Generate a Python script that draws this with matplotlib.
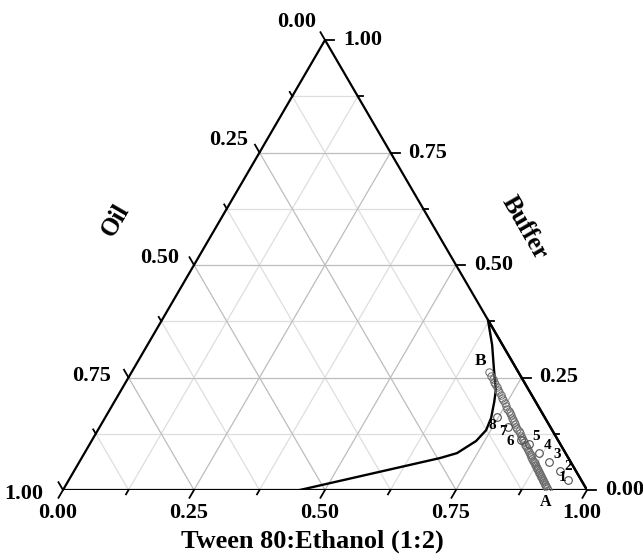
import matplotlib.pyplot as plt

plt.rcParams['font.family'] = ['Liberation Serif', 'DejaVu Serif']
plt.rcParams['font.weight'] = 'bold'

W, H = 643, 557
# triangle placement in figure pixels (left vertex, base width, height)
X0, Y0, BASE, HGT = 63, 490, 524, 450

major = [0.0, 0.25, 0.5, 0.75, 1.0]
minor = [0.125, 0.375, 0.625, 0.875]
major_labels = ['0.00', '0.25', '0.50', '0.75', '1.00']

# phase boundary, fractions of Tween80:Ethanol and Buffer (oil = remainder)
bound_tween = [1.0, 0.622, 0.658, 0.689, 0.715, 0.725, 0.737, 0.741, 0.734, 0.711, 0.684, 0.452]
bound_buffer = [0.0, 0.378, 0.322, 0.267, 0.222, 0.196, 0.160, 0.133, 0.109, 0.082, 0.071, 0.0]

# dilution line A -> B (mixture A titrated with buffer)
A_tween, A_oil = 0.925, 0.075
dil_buffer = [0.000, 0.004, 0.008, 0.011, 0.014, 0.017, 0.020, 0.023, 0.026, 0.029,
              0.032, 0.035, 0.038, 0.041, 0.044, 0.047, 0.050, 0.053, 0.056, 0.059,
              0.062, 0.065, 0.069, 0.073, 0.077, 0.081, 0.085, 0.089, 0.093, 0.097,
              0.101, 0.106, 0.111, 0.116, 0.121, 0.126, 0.131, 0.136, 0.141, 0.146,
              0.151, 0.156, 0.161, 0.166, 0.171, 0.176, 0.181, 0.187, 0.193, 0.199,
              0.205, 0.211, 0.217, 0.223, 0.229, 0.235, 0.241, 0.247, 0.254, 0.262]

# numbered formulations
form_id = ['1', '2', '3', '4', '5', '6', '7', '8']
form_tween = [0.953, 0.927, 0.897, 0.868, 0.839, 0.818, 0.778, 0.746]
form_buffer = [0.022, 0.042, 0.062, 0.082, 0.102, 0.111, 0.141, 0.163]
# label offsets in pixels (right, up)
form_off = [(-6, 3), (8, 5), (8, 8), (8, 8), (7, 8), (-10, -1), (-5, -5), (-4, -9)]


def tern(s, b):
    return s + b / 2.0, b


def px(dx, dy):
    # pixel offset -> data offset
    return dx / BASE, dy / HGT


fig = plt.figure(figsize=(W / 100, H / 100), dpi=100)
ax = fig.add_axes([X0 / W, (H - Y0) / H, BASE / W, HGT / H])
ax.set_xlim(0, 1)
ax.set_ylim(0, 1)
ax.axis('off')

# grid
for v in minor + major[1:4]:
    col = '#bdbdbd' if v in major else '#dedede'
    for (s1, b1), (s2, b2) in [((1 - v, v), (0, v)),
                               ((v, 0), (v, 1 - v)),
                               ((1 - v, 0), (0, 1 - v))]:
        x1, y1 = tern(s1, b1)
        x2, y2 = tern(s2, b2)
        ax.plot([x1, x2], [y1, y2], color=col, lw=0.9, zorder=1)

# frame
fx, fy = zip(*[tern(0, 0), tern(1, 0), tern(0, 1), tern(0, 0)])
ax.plot(fx, fy, color='black', lw=1.6, zorder=3, solid_joinstyle='miter')

# ticks and tick labels
d_bot = (-0.503, -0.864)
d_right = (1.0, 0.0)
d_left = (-0.503, 0.864)
for v, is_major in [(t, True) for t in major] + [(t, False) for t in minor]:
    L = 9 if is_major else 5
    for (s, b), d in [((v, 0), d_bot), ((1 - v, v), d_right), ((0, 1 - v), d_left)]:
        x, y = tern(s, b)
        ddx, ddy = px(d[0] * L, d[1] * L)
        ax.plot([x, x + ddx], [y, y + ddy], color='black', lw=1.3, clip_on=False, zorder=3)

for v, lab in zip(major, major_labels):
    # bottom: tween
    x, y = tern(v, 0)
    ox, oy = px(-5, -23)
    ax.text(x + ox, y + oy, lab, ha='center', va='center', fontsize=16, fontweight='bold')
    # right: buffer
    x, y = tern(1 - v, v)
    ox, oy = px(18, 0)
    ax.text(x + ox, y + oy, lab, ha='left', va='center', fontsize=16, fontweight='bold')
    # left: oil (0 at top)
    x, y = tern(0, 1 - v)
    ox, oy = px(-9 - 11 * v, 18 - 22 * v)
    ax.text(x + ox, y + oy, lab, ha='right', va='center', fontsize=16, fontweight='bold')

# boundary curve
bx, by = zip(*[tern(s, b) for s, b in zip(bound_tween, bound_buffer)])
ax.plot(bx, by, color='black', lw=1.7, zorder=4)

# dilution points
dx_, dy_ = zip(*[tern(A_tween * (1 - b), b) for b in dil_buffer])
ax.plot(dx_, dy_, 'o', ms=5.3, mfc='none', mec='#6a6a6a', mew=0.7, zorder=5)

# numbered formulations
for lab, s, b, off in zip(form_id, form_tween, form_buffer, form_off):
    x, y = tern(s, b)
    ax.plot(x, y, 'o', ms=5.5, mfc='none', mec='#505050', mew=0.8, zorder=5)
    ox, oy = px(*off)
    ax.text(x + ox, y + oy, lab, ha='center', va='center', fontsize=11, fontweight='bold', zorder=6)

# A and B labels
x, y = tern(A_tween, 0)
ox, oy = px(-2, -12)
ax.text(x + ox, y + oy, 'A', ha='center', va='center', fontsize=11.5, fontweight='bold')
x, y = tern(A_tween * (1 - dil_buffer[-1]), dil_buffer[-1])
ox, oy = px(-9, 11)
ax.text(x + ox, y + oy, 'B', ha='center', va='center', fontsize=12.5, fontweight='bold')

# axis titles
fig.text(312 / W, 1 - 541 / H, 'Tween 80:Ethanol (1:2)', ha='center', va='center',
         fontsize=19, fontweight='bold')
fig.text(115 / W, 1 - 220 / H, 'Oil', ha='center', va='center', rotation=60,
         fontsize=18, fontweight='bold')
fig.text(525 / W, 1 - 228 / H, 'Buffer', ha='center', va='center', rotation=-60,
         fontsize=18, fontweight='bold')

fig.savefig('out.png', dpi=100)
